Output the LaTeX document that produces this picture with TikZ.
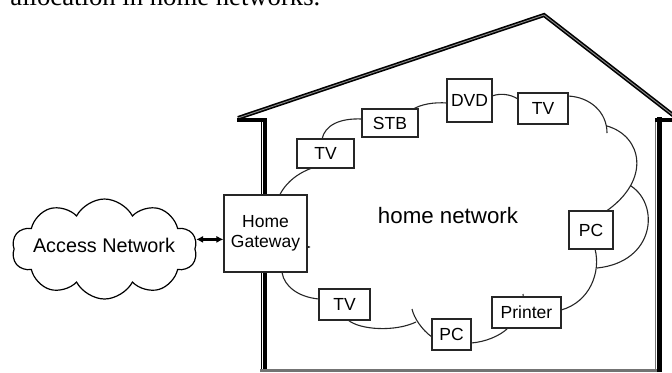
\documentclass[tikz,border=0pt]{standalone}
\usepackage{fontspec}
\setmainfont{Liberation Serif}
\setsansfont{Liberation Sans}
\usetikzlibrary{shapes.symbols, arrows.meta}

\begin{document}
\begin{tikzpicture}[x=0.5pt, y=-0.5pt,
    device/.style={draw=black!85, line width=0.6pt, fill=white, inner sep=0pt, font=\sffamily\fontsize{8.75}{10}\selectfont, align=center},
    cloudline/.style={draw=black!85, line width=0.55pt},
    link/.style={{Latex[length=3.5pt,width=3.6pt]}-{Latex[length=3.5pt,width=3.6pt]}, line width=1.3pt},
    roof/.style={draw=black, double=black!45, double distance=0.45pt, line width=0.8pt},
    wall/.style={line width=1.7pt},
    thinwall/.style={line width=0.6pt},
  ]
  \useasboundingbox (0,0) rectangle (672,372);
  \clip (0,0) rectangle (672,372);

  % caption line, cut off at the top
  \node[anchor=base west, inner sep=0pt, font=\fontsize{13.35}{15}\selectfont] (caption) at (10,5) {allocation in home networks.};

  % house outline
  \draw[roof] (238,118) -- (544,15) -- (678,119);
  \draw[wall] (237,120) -- (266.7,120);
  \draw[wall] (265,119) -- (265,372);
  \draw[thinwall] (261.5,121) -- (261.5,372);
  \draw[wall, black!55] (260,370.5) -- (657,370.5);
  \draw[thinwall, black!55, line width=0.7pt] (655.3,119) -- (655.3,372);
  \draw[wall, line width=2.2pt] (659.5,117) -- (659.5,372);
  \draw[wall, line width=2pt] (655,119.5) -- (672,119.5);

  % home network cloud
  \draw[cloudline]
    (310,247) .. controls (262,240) and (265,185) .. (312,168)
    (322,139) .. controls (325,125) and (340,118) .. (362,119)
    (412,110) .. controls (420,104) and (435,102) .. (447,103)
    (492,96) .. controls (500,93) and (510,94) .. (518,99)
    (568,96) .. controls (590,97) and (607,112) .. (607,133)
    (607,126) .. controls (642,136) and (652,180) .. (605,212)
    (631,186) .. controls (660,205) and (655,262) .. (597,268)
    (561,310) .. controls (590,302) and (601,272) .. (595,249)
    (508,328) .. controls (500,336) and (485,342) .. (471,343)
    (523,294) -- (524,304)
    (412,309) .. controls (414,318) and (422,330) .. (432,337)
    (348,320) .. controls (360,330) and (395,332) .. (416,322)
    (310,247) .. controls (268,252) and (275,295) .. (319,299);
  \node[font=\sffamily\fontsize{11.15}{13}\selectfont] (homenet) at (448,216) {home network};

  % devices
  \node[device, minimum width=41.5pt, minimum height=38.5pt] (gate) at (265.5,233.5) {Home\\Gateway};
  \node[device, minimum width=28.5pt, minimum height=14.5pt] (tvA) at (325.5,153.5) {TV};
  \node[device, minimum width=28pt, minimum height=14pt] (stb) at (390,123) {STB};
  \node[device, minimum width=22.5pt, minimum height=21.5pt] (dvd) at (469.5,100.5) {DVD};
  \node[device, minimum width=25pt, minimum height=15.5pt] (tvB) at (543,108.5) {TV};
  \node[device, minimum width=22pt, minimum height=19pt] (pcA) at (591,230) {PC};
  \node[device, minimum width=25.5pt, minimum height=15.5pt] (tvC) at (344.5,304.5) {TV};
  \node[device, minimum width=19.5pt, minimum height=15.5pt] (pcB) at (451.5,334.5) {PC};
  \node[device, minimum width=34.5pt, minimum height=15.5pt] (printer) at (526.5,312.5) {Printer};

  % access network
  \node[cloud, draw=black, line width=0.6pt, cloud puffs=10, cloud puff arc=125, aspect=2,
        minimum width=92.5pt, minimum height=50pt, inner sep=0pt] (access) at (104.5,249) {};
  \node[font=\sffamily\fontsize{9.9}{12}\selectfont] (accesslabel) at (104,245) {Access Network};
  \draw[link] (access.6) -- (access.6 -| gate.west);
\end{tikzpicture}
\end{document}
